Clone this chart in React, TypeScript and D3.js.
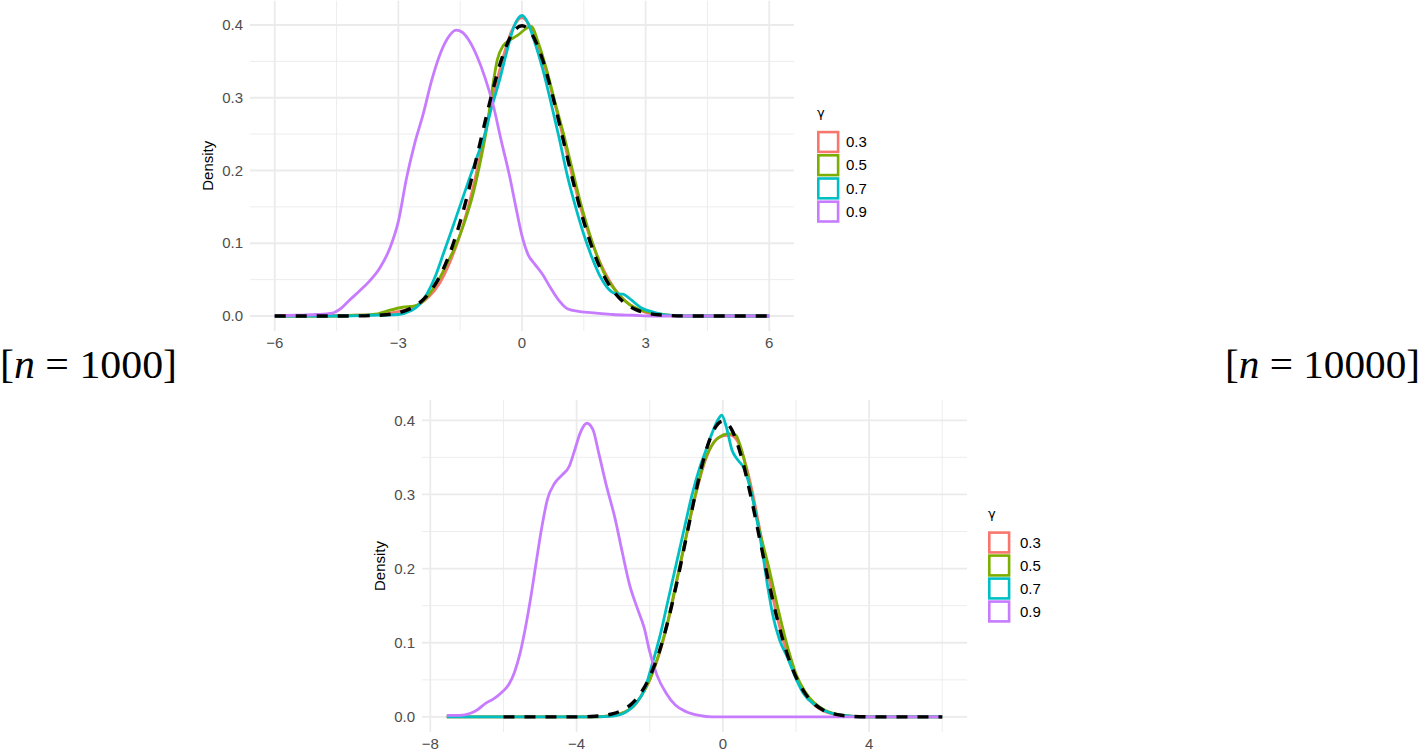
import React, { useEffect, useRef } from 'react';
import * as d3 from 'd3';

type Pt = [number, number];

const gammaLevels = ['0.3', '0.5', '0.7', '0.9'];
const gammaColors = ['#F8766D', '#7CAE00', '#00BFC4', '#C77CFF'];

// ---- n = 1000 ----
const topXTicks = [-6, -3, 0, 3, 6];
const topYTicks = [0, 0.1, 0.2, 0.3, 0.4];

const top03: Pt[] = [
  [-6, 0], [-5, 0], [-4, 0.001], [-3.5, 0.002], [-3, 0.006], [-2.75, 0.01], [-2.5, 0.016],
  [-2.25, 0.027], [-2, 0.045], [-1.75, 0.074], [-1.5, 0.112], [-1.25, 0.162], [-1, 0.224],
  [-0.75, 0.29], [-0.5, 0.347], [-0.25, 0.392], [0, 0.41], [0.25, 0.392], [0.5, 0.352],
  [0.75, 0.302], [1, 0.245], [1.25, 0.186], [1.5, 0.134], [1.75, 0.093], [2, 0.061],
  [2.25, 0.037], [2.5, 0.021], [2.75, 0.011], [3, 0.005], [3.5, 0.001], [4, 0], [6, 0],
];
const top05: Pt[] = [
  [-6, 0], [-4.5, 0], [-4, 0.001], [-3.5, 0.003], [-3.2, 0.008], [-2.9, 0.012], [-2.6, 0.014],
  [-2.4, 0.02], [-2.2, 0.034], [-2, 0.052], [-1.8, 0.074], [-1.6, 0.098], [-1.4, 0.128],
  [-1.2, 0.165], [-1, 0.215], [-0.85, 0.26], [-0.7, 0.32], [-0.6, 0.352], [-0.45, 0.372],
  [-0.3, 0.379], [-0.1, 0.386], [0.1, 0.395], [0.22, 0.398], [0.4, 0.375], [0.6, 0.338],
  [0.8, 0.294], [1, 0.252], [1.2, 0.206], [1.4, 0.16], [1.6, 0.12], [1.8, 0.086], [2, 0.058],
  [2.2, 0.04], [2.4, 0.026], [2.6, 0.016], [2.8, 0.01], [3.1, 0.005], [3.45, 0.002], [3.8, 0], [6, 0],
];
const top07: Pt[] = [
  [-6, 0], [-4.5, 0], [-3.7, 0.001], [-3, 0.002], [-2.7, 0.007], [-2.5, 0.015], [-2.3, 0.031],
  [-2.1, 0.055], [-1.9, 0.087], [-1.7, 0.119], [-1.5, 0.152], [-1.3, 0.185], [-1.1, 0.217],
  [-0.9, 0.25], [-0.75, 0.284], [-0.55, 0.323], [-0.38, 0.361], [-0.2, 0.397], [0, 0.413],
  [0.15, 0.402], [0.3, 0.378], [0.5, 0.34], [0.7, 0.294], [0.9, 0.245], [1.1, 0.193],
  [1.3, 0.15], [1.5, 0.112], [1.7, 0.08], [1.9, 0.054], [2.1, 0.037], [2.25, 0.031],
  [2.45, 0.03], [2.65, 0.022], [2.9, 0.011], [3.2, 0.005], [3.55, 0.001], [4, 0], [6, 0],
];
const top09: Pt[] = [
  [-6, 0], [-5.5, 0.001], [-5, 0.002], [-4.6, 0.004], [-4.4, 0.01], [-4.2, 0.021],
  [-3.95, 0.034], [-3.7, 0.048], [-3.45, 0.066], [-3.2, 0.094], [-3, 0.13], [-2.8, 0.19],
  [-2.6, 0.238], [-2.4, 0.277], [-2.2, 0.322], [-2, 0.358], [-1.8, 0.382], [-1.6, 0.393],
  [-1.45, 0.39], [-1.3, 0.38], [-1.1, 0.358], [-0.9, 0.328], [-0.7, 0.29], [-0.5, 0.24],
  [-0.3, 0.192], [-0.15, 0.15], [0, 0.11], [0.15, 0.084], [0.3, 0.072], [0.5, 0.057],
  [0.7, 0.038], [0.9, 0.021], [1.1, 0.01], [1.4, 0.006], [1.8, 0.004], [2.2, 0.002],
  [2.7, 0.001], [3.2, 0], [6, 0],
];

// reference N(0,1) curve, same for both panels
const normalRef: Pt[] = [
  [-6, 0], [-5, 0], [-4.5, 0], [-4, 0.0001], [-3.5, 0.0009], [-3, 0.0044], [-2.75, 0.0091],
  [-2.5, 0.0175], [-2.25, 0.0317], [-2, 0.054], [-1.75, 0.0863], [-1.5, 0.1295],
  [-1.25, 0.1826], [-1, 0.242], [-0.75, 0.3011], [-0.5, 0.3521], [-0.25, 0.3867], [0, 0.3989],
  [0.25, 0.3867], [0.5, 0.3521], [0.75, 0.3011], [1, 0.242], [1.25, 0.1826], [1.5, 0.1295],
  [1.75, 0.0863], [2, 0.054], [2.25, 0.0317], [2.5, 0.0175], [2.75, 0.0091], [3, 0.0044],
  [3.5, 0.0009], [4, 0.0001], [4.5, 0], [5, 0], [6, 0],
];

// ---- n = 10000 ----
const botXTicks = [-8, -4, 0, 4];
const botYTicks = [0, 0.1, 0.2, 0.3, 0.4];

const bot03: Pt[] = [
  [-7.55, 0], [-3.5, 0], [-3, 0.002], [-2.5, 0.012], [-2.25, 0.027], [-2, 0.05], [-1.75, 0.083],
  [-1.5, 0.128], [-1.25, 0.185], [-1, 0.243], [-0.75, 0.298], [-0.5, 0.343], [-0.25, 0.37],
  [0, 0.379], [0.2, 0.38], [0.4, 0.372], [0.6, 0.345], [0.8, 0.305], [1, 0.255], [1.25, 0.19],
  [1.5, 0.132], [1.75, 0.087], [2, 0.054], [2.25, 0.031], [2.5, 0.016], [2.75, 0.008],
  [3, 0.004], [3.5, 0.001], [4, 0], [6, 0],
];
const bot05: Pt[] = [
  [-7.55, 0], [-3.5, 0], [-3, 0.002], [-2.5, 0.012], [-2.25, 0.027], [-2, 0.05], [-1.75, 0.085],
  [-1.5, 0.13], [-1.25, 0.187], [-1, 0.245], [-0.75, 0.3], [-0.5, 0.345], [-0.25, 0.37],
  [0, 0.38], [0.15, 0.382], [0.35, 0.38], [0.5, 0.362], [0.75, 0.31], [1, 0.252], [1.25, 0.203],
  [1.5, 0.148], [1.75, 0.098], [2, 0.058], [2.25, 0.034], [2.5, 0.019], [2.75, 0.01],
  [3, 0.005], [3.5, 0.001], [4, 0], [6, 0],
];
const bot07: Pt[] = [
  [-7.55, 0], [-3.5, 0], [-3, 0.001], [-2.6, 0.008], [-2.35, 0.02], [-2.15, 0.036],
  [-1.95, 0.068], [-1.7, 0.113], [-1.5, 0.157], [-1.27, 0.207], [-1.05, 0.255], [-0.85, 0.298],
  [-0.62, 0.338], [-0.46, 0.36], [-0.3, 0.382], [-0.13, 0.401], [-0.03, 0.407], [0.09, 0.392],
  [0.25, 0.36], [0.4, 0.347], [0.57, 0.336], [0.74, 0.31], [0.9, 0.274], [1.06, 0.23],
  [1.22, 0.178], [1.39, 0.132], [1.55, 0.104], [1.77, 0.08], [1.98, 0.054], [2.2, 0.032],
  [2.53, 0.016], [2.85, 0.007], [3.3, 0.002], [3.8, 0], [6, 0],
];
const bot09: Pt[] = [
  [-7.55, 0.002], [-7.2, 0.002], [-6.9, 0.005], [-6.7, 0.01], [-6.5, 0.018], [-6.25, 0.025],
  [-6.05, 0.033], [-5.85, 0.044], [-5.7, 0.06], [-5.55, 0.085], [-5.4, 0.12], [-5.25, 0.162],
  [-5.1, 0.21], [-4.95, 0.256], [-4.8, 0.293], [-4.6, 0.315], [-4.4, 0.326], [-4.2, 0.338],
  [-4.05, 0.36], [-3.9, 0.383], [-3.72, 0.396], [-3.55, 0.387], [-3.4, 0.357], [-3.2, 0.315],
  [-2.95, 0.268], [-2.75, 0.222], [-2.55, 0.178], [-2.35, 0.148], [-2.15, 0.12], [-2, 0.088],
  [-1.8, 0.056], [-1.55, 0.032], [-1.3, 0.016], [-1, 0.007], [-0.65, 0.002], [-0.3, 0], [6, 0],
];

const W = 1423;
const H = 751;
const FONT = '"Liberation Sans", Arial, Helvetica, sans-serif';

interface PanelCfg {
  id: string;
  left: number;
  right: number;
  top: number;
  bottom: number;
  xTicks: number[];
  yTicks: number[];
  series: Pt[][];
  legendX: number;
  legendTitleY: number;
  legendKeyY: number;
  legendStep: number;
  legendLabelX: number;
}

const panels: PanelCfg[] = [
  {
    id: 'p1', left: 250, right: 794, top: 0.5, bottom: 331,
    xTicks: topXTicks, yTicks: topYTicks, series: [top03, top05, top07, top09],
    legendX: 817, legendTitleY: 117, legendKeyY: 142, legendStep: 23.2, legendLabelX: 846,
  },
  {
    id: 'p2', left: 422, right: 967, top: 400, bottom: 732,
    xTicks: botXTicks, yTicks: botYTicks, series: [bot03, bot05, bot07, bot09],
    legendX: 988, legendTitleY: 518, legendKeyY: 542.5, legendStep: 23, legendLabelX: 1020,
  },
];

const minus = (v: number) => (v < 0 ? '\u2212' + Math.abs(v) : String(v));
const mids = (t: number[]) => {
  const step = t[1] - t[0];
  const out: number[] = [];
  for (let i = -1; i < t.length; i++) out.push(t[0] + step * i + step / 2);
  return out;
};

function drawPanel(svg: d3.Selection<SVGSVGElement, unknown, null, undefined>, p: PanelCfg) {
  const all = [...p.series.flat(), ...normalRef];
  const [x0, x1] = d3.extent(all, (d) => d[0]) as [number, number];
  const yMax = d3.max(all, (d) => d[1]) as number;
  const dx = (x1 - x0) * 0.05;
  const dy = yMax * 0.05;

  const x = d3.scaleLinear().domain([x0 - dx, x1 + dx]).range([p.left, p.right]);
  const y = d3.scaleLinear().domain([-dy, yMax + dy]).range([p.bottom, p.top]);

  svg.append('clipPath').attr('id', p.id + 'clip')
    .append('rect')
    .attr('x', p.left).attr('y', p.top)
    .attr('width', p.right - p.left).attr('height', p.bottom - p.top);

  const grid = svg.append('g').attr('clip-path', `url(#${p.id}clip)`);
  const [xd0, xd1] = x.domain();
  const [yd0, yd1] = y.domain();

  // minor grid
  grid.selectAll('.vminor').data(mids(p.xTicks).filter((v) => v > xd0 && v < xd1)).enter()
    .append('line')
    .attr('x1', (d) => x(d)).attr('x2', (d) => x(d))
    .attr('y1', p.top).attr('y2', p.bottom)
    .attr('stroke', '#EBEBEB').attr('stroke-width', 0.9);
  grid.selectAll('.hminor').data(mids(p.yTicks).filter((v) => v > yd0 && v < yd1)).enter()
    .append('line')
    .attr('x1', p.left).attr('x2', p.right)
    .attr('y1', (d) => y(d)).attr('y2', (d) => y(d))
    .attr('stroke', '#EBEBEB').attr('stroke-width', 0.9);
  // major grid
  grid.selectAll('.vmajor').data(p.xTicks).enter()
    .append('line')
    .attr('x1', (d) => x(d)).attr('x2', (d) => x(d))
    .attr('y1', p.top).attr('y2', p.bottom)
    .attr('stroke', '#EBEBEB').attr('stroke-width', 1.8);
  grid.selectAll('.hmajor').data(p.yTicks).enter()
    .append('line')
    .attr('x1', p.left).attr('x2', p.right)
    .attr('y1', (d) => y(d)).attr('y2', (d) => y(d))
    .attr('stroke', '#EBEBEB').attr('stroke-width', 1.8);

  const line = d3.line<Pt>()
    .x((d) => x(d[0]))
    .y((d) => y(d[1]))
    .curve(d3.curveMonotoneX);

  p.series.forEach((s, i) => {
    svg.append('path')
      .attr('d', line(s))
      .attr('fill', 'none')
      .attr('stroke', gammaColors[i])
      .attr('stroke-width', 2.8)
      .attr('stroke-linejoin', 'round');
  });

  svg.append('path')
    .attr('d', line(normalRef))
    .attr('fill', 'none')
    .attr('stroke', '#000000')
    .attr('stroke-width', 3.4)
    .attr('stroke-dasharray', '11,10');

  // tick labels
  svg.append('g').selectAll('text').data(p.xTicks).enter()
    .append('text')
    .attr('x', (d) => x(d))
    .attr('y', p.bottom + 17)
    .attr('text-anchor', 'middle')
    .attr('font-family', FONT)
    .attr('font-size', 15)
    .attr('fill', '#4D4D4D')
    .text((d) => minus(d));

  svg.append('g').selectAll('text').data(p.yTicks).enter()
    .append('text')
    .attr('x', p.left - 7)
    .attr('y', (d) => y(d))
    .attr('dy', '0.35em')
    .attr('text-anchor', 'end')
    .attr('font-family', FONT)
    .attr('font-size', 15)
    .attr('fill', '#4D4D4D')
    .text((d) => d3.format('.1f')(d));

  svg.append('text')
    .attr('transform', `translate(${p.left - 37},${(p.top + p.bottom) / 2}) rotate(-90)`)
    .attr('text-anchor', 'middle')
    .attr('font-family', FONT)
    .attr('font-size', 15)
    .attr('fill', '#000000')
    .text('Density');

  // legend
  const lg = svg.append('g');
  lg.append('text')
    .attr('x', p.legendX)
    .attr('y', p.legendTitleY)
    .attr('font-family', '"DejaVu Sans", sans-serif')
    .attr('font-size', 13)
    .attr('fill', '#000000')
    .text('\u03B3');
  const keys = lg.selectAll('g.key').data(gammaLevels).enter().append('g')
    .attr('transform', (_d, i) => `translate(0,${p.legendKeyY + i * p.legendStep})`);
  keys.append('rect')
    .attr('x', p.legendX + 1.3)
    .attr('y', -9.9)
    .attr('width', 19.8)
    .attr('height', 19.8)
    .attr('fill', '#FFFFFF')
    .attr('stroke', (_d, i) => gammaColors[i])
    .attr('stroke-width', 2.6);
  keys.append('text')
    .attr('x', p.legendLabelX)
    .attr('y', 0)
    .attr('dy', '0.35em')
    .attr('font-family', FONT)
    .attr('font-size', 15)
    .attr('fill', '#000000')
    .text((d) => d);
}

const sampleLabels = [
  { n: '1000', x: 0, width: 177 },
  { n: '10000', x: 1225, width: 195 },
];

const App = () => {
  const svgRef = useRef<SVGSVGElement>(null);

  useEffect(() => {
    const svg = d3.select(svgRef.current as SVGSVGElement);
    svg.selectAll('*').remove();
    svg.append('rect').attr('width', W).attr('height', H).attr('fill', '#FFFFFF');

    panels.forEach((p) => drawPanel(svg, p));

    sampleLabels.forEach((l) => {
      const t = svg.append('text')
        .attr('x', l.x)
        .attr('y', 378)
        .attr('font-family', '"Liberation Serif", "Times New Roman", serif')
        .attr('font-size', 39)
        .attr('fill', '#000000')
        .attr('textLength', l.width)
        .attr('lengthAdjust', 'spacingAndGlyphs');
      t.append('tspan').text('[');
      t.append('tspan').attr('font-style', 'italic').text('n');
      t.append('tspan').text(' = ' + l.n + ']');
    });
  }, []);

  return (
    <svg
      ref={svgRef}
      width={W}
      height={H}
      style={{ position: 'absolute', left: 0, top: 0, display: 'block' }}
    />
  );
};

export default App;
